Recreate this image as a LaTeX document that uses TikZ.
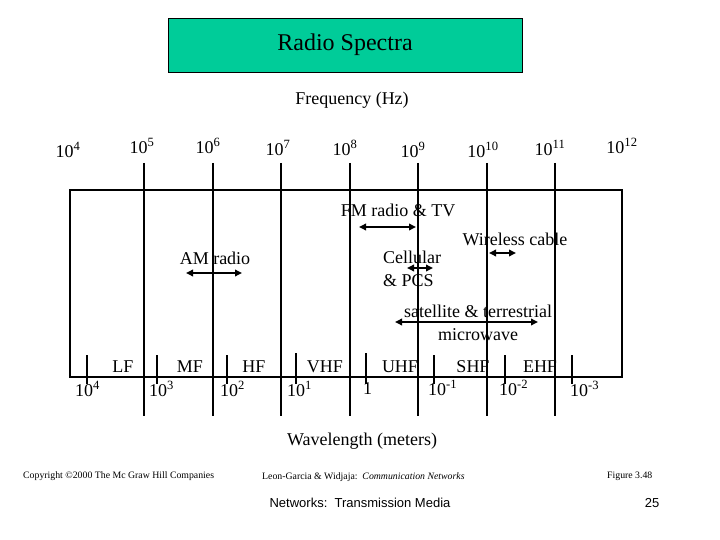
\documentclass[tikz,border=0pt]{standalone}
\usepackage{fontspec}
\setmainfont{Liberation Serif}
\newfontfamily\slidesans{Liberation Sans}
\usetikzlibrary{arrows.meta}
\usepackage{xcolor}
\definecolor{titlegreen}{HTML}{00CC99}

\begin{document}
\begin{tikzpicture}[
  x=1pt,y=-1pt,
  >={Triangle[length=7pt,width=6.5pt]},
  every node/.style={font=\fontsize{18}{22.5}\selectfont,inner sep=0pt},
  titlebox/.style={draw=black,line width=0.8pt,fill=titlegreen,minimum width=354pt,minimum height=54pt,font=\fontsize{24}{28}\selectfont},
  grid/.style={draw=black,line width=2.9pt},
  tickmark/.style={draw=black,line width=2.5pt},
  band/.style={<->,draw=black,line width=2.2pt},
  small/.style={font=\fontsize{9.8}{12}\selectfont,anchor=west},
]
\useasboundingbox (0,0) rectangle (720,540);

\node[titlebox] (title) at (345,45) {Radio Spectra};
\node (freqcap) at (352,100) {Frequency (Hz)};

% frequency scale
\node (f4) at (68,150) {10\textsuperscript{4}};
\node (f5) at (142,146) {10\textsuperscript{5}};
\node (f6) at (208,146) {10\textsuperscript{6}};
\node (f7) at (278,148) {10\textsuperscript{7}};
\node (f8) at (345,148) {10\textsuperscript{8}};
\node (f9) at (413,150) {10\textsuperscript{9}};
\node (f10) at (483,150) {10\textsuperscript{10}};
\node (f11) at (550,148) {10\textsuperscript{11}};
\node (f12) at (622,146) {10\textsuperscript{12}};

\draw[grid] (70,190) rectangle (622,377);
\draw[grid] (144,163) -- (144,416);
\draw[grid] (213,163) -- (213,416);
\draw[grid] (281,163) -- (281,416);
\draw[grid] (350,163) -- (350,416);
\draw[grid] (418,163) -- (418,416);
\draw[grid] (487,163) -- (487,416);
\draw[grid] (555,163) -- (555,416);

% wavelength ticks
\draw[tickmark] (87,355) -- (87,384);
\draw[tickmark] (157,355) -- (157,384);
\draw[tickmark] (227,355) -- (227,384);
\draw[tickmark] (296,353) -- (296,384);
\draw[tickmark] (366,353) -- (366,384);
\draw[tickmark] (434,355) -- (434,384);
\draw[tickmark] (505,355) -- (505,384);
\draw[tickmark] (572,355) -- (572,384);

\node (lf) at (123,367) {LF};
\node (mf) at (190,367) {MF};
\node (hf) at (254,367) {HF};
\node (vhf) at (325,367) {VHF};
\node (uhf) at (400,367) {UHF};
\node (shf) at (473,367) {SHF};
\node (ehf) at (540,367) {EHF};

\node[anchor=west] (w4) at (75,389) {10\textsuperscript{4}};
\node[anchor=west] (w3) at (149,389) {10\textsuperscript{3}};
\node[anchor=west] (w2) at (220,389) {10\textsuperscript{2}};
\node[anchor=west] (w1) at (287,389) {10\textsuperscript{1}};
\node[anchor=west] (w0) at (363,389) {1};
\node[anchor=west] (wm1) at (428,388) {10\textsuperscript{-1}};
\node[anchor=west] (wm2) at (499,388) {10\textsuperscript{-2}};
\node[anchor=west] (wm3) at (570,389) {10\textsuperscript{-3}};

% services
\node (fmtext) at (398,210) {FM radio \& TV};
\node (wctext) at (515,239) {Wireless cable};
\node (amtext) at (215,258) {AM radio};
\node[align=left] (celltext) at (412,269) {Cellular\\\& PCS};
\node[align=center] (sattext) at (478,323) {satellite \& terrestrial\\microwave};

\coordinate (fmL) at (359,227);
\coordinate (fmR) at (416,227);
\coordinate (wcL) at (489,253);
\coordinate (wcR) at (516,253);
\coordinate (cellL) at (407,268);
\coordinate (cellR) at (433,268);
\coordinate (amL) at (186,273);
\coordinate (amR) at (242,273);
\coordinate (satL) at (395,322);
\coordinate (satR) at (538,322);
\draw[band] (fmL) -- (fmR);
\draw[band] (wcL) -- (wcR);
\draw[band] (cellL) -- (cellR);
\draw[band] (amL) -- (amR);
\draw[band] (satL) -- (satR);

\node (wavecap) at (362,441) {Wavelength (meters)};

% footer
\node[small] (copyright) at (23,476) {Copyright \textcopyright2000 The Mc Graw Hill Companies};
\node[small] (authors) at (262,477) {Leon-Garcia \& Widjaja:\ \ \textit{Communication Networks}};
\node[small] (figno) at (607,476) {Figure 3.48};
\node[font=\slidesans\fontsize{13}{15}\selectfont] (footer) at (360,503) {Networks:\ \ Transmission Media};
\node[font=\slidesans\fontsize{13}{15}\selectfont] (pageno) at (652,503) {25};
\end{tikzpicture}
\end{document}
